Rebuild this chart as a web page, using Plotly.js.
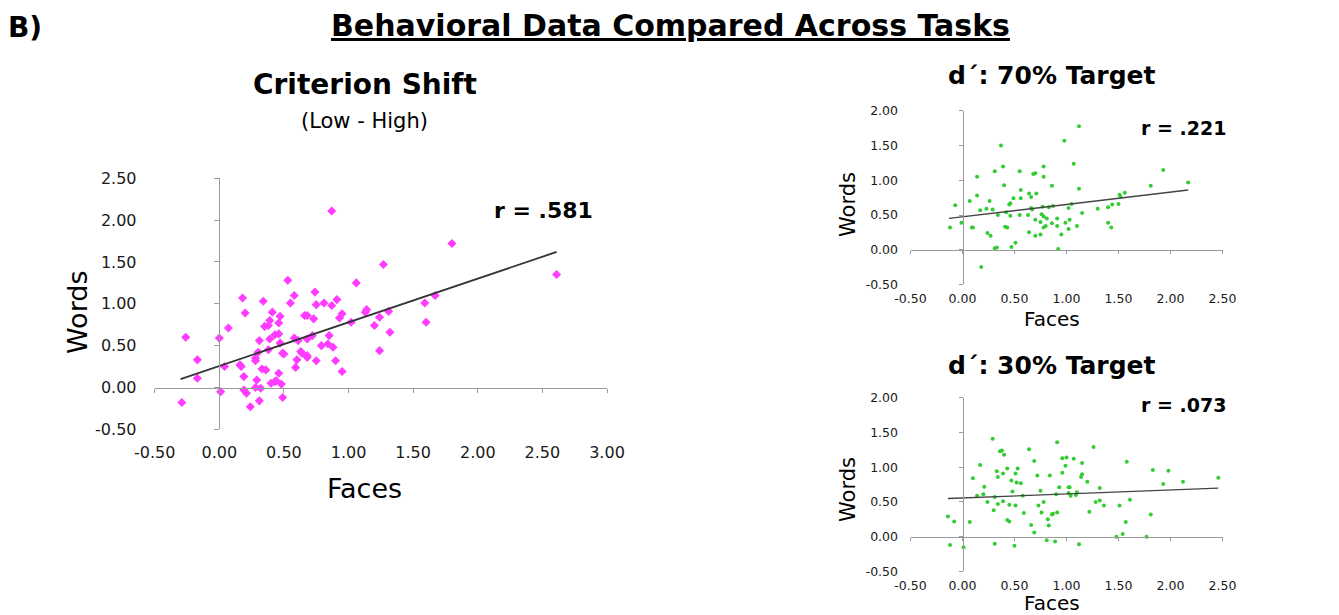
<!DOCTYPE html>
<html>
<head>
<meta charset="utf-8">
<script src="https://cdn.plot.ly/plotly-3.0.1.min.js"></script>
<style>html,body{margin:0;padding:0;background:#fff;}#chart{width:1339px;height:615px;}</style>
</head>
<body>
<div id="chart"></div>
<script>
// ---- Criterion Shift (Low - High) ----
const csFaces = [0.87,1.27,0.53,1.06,0.58,0.74,0.18,0.34,0.91,0.55,0.75,0.81,0.87,0.20,0.41,0.47,0.66,0.68,0.73,0.95,0.93,1.14,1.13,1.31,1.24,1.20,1.02,0.39,0.38,0.35,0.46,0.07,0.43,0.46,0.39,0.31,0.58,0.61,0.68,0.72,0.85,0.47,0.00,-0.26,0.30,0.49,0.50,0.63,0.64,0.68,0.79,0.84,0.88,0.38,0.28,0.28,0.60,0.68,0.75,0.90,-0.17,0.16,0.17,0.04,0.33,0.36,0.59,0.46,0.95,0.19,-0.17,0.29,0.43,0.44,0.40,0.48,0.28,0.32,0.19,0.21,0.01,0.31,0.49,-0.29,0.24,1.24,1.32,1.80,2.61,1.67,1.59,1.60];
const csWords = [2.11,1.47,1.28,1.25,1.10,1.14,1.07,1.03,1.05,1.01,0.99,1.01,0.98,0.89,0.90,0.85,0.86,0.86,0.82,0.88,0.83,0.93,0.90,0.91,0.84,0.74,0.78,0.80,0.74,0.73,0.77,0.71,0.63,0.64,0.58,0.56,0.59,0.56,0.58,0.62,0.62,0.53,0.59,0.60,0.42,0.41,0.40,0.43,0.41,0.38,0.50,0.52,0.48,0.45,0.35,0.32,0.33,0.36,0.32,0.32,0.33,0.27,0.25,0.25,0.22,0.21,0.24,0.17,0.19,0.13,0.11,0.09,0.07,0.08,0.05,0.04,0.00,-0.01,-0.03,-0.07,-0.05,-0.16,-0.12,-0.18,-0.23,0.44,0.66,1.72,1.35,1.10,1.01,0.78];
const csFitX = [-0.30, 2.61];
const csFitY = [0.10, 1.62];

// ---- d': 70% Target ----
const t70Faces = [1.12,0.98,0.37,1.07,0.39,0.31,0.55,0.78,0.68,0.70,0.78,0.14,0.40,0.86,1.12,0.14,0.56,0.64,0.66,0.71,0.49,0.56,0.46,0.45,0.07,0.26,-0.07,0.17,0.23,0.29,0.34,0.42,0.46,0.55,0.63,0.66,0.67,0.77,0.83,0.87,1.02,1.05,1.15,1.30,0.76,0.78,0.81,0.91,0.70,0.75,0.80,0.78,0.86,0.91,0.99,1.03,1.02,1.10,-0.12,-0.01,0.09,0.10,0.41,0.43,0.64,0.70,0.75,0.24,0.27,0.95,0.51,0.47,0.31,0.33,0.92,0.18,1.93,2.17,1.81,1.56,1.51,1.52,1.50,1.44,1.40,1.40,1.43];
const t70Words = [1.78,1.57,1.50,1.24,1.20,1.13,1.13,1.20,1.09,1.10,1.05,1.05,0.93,0.92,0.88,0.78,0.86,0.81,0.76,0.81,0.74,0.74,0.67,0.65,0.70,0.70,0.64,0.57,0.59,0.58,0.50,0.54,0.49,0.50,0.50,0.60,0.58,0.62,0.61,0.63,0.60,0.66,0.53,0.59,0.51,0.48,0.45,0.45,0.43,0.40,0.34,0.32,0.38,0.34,0.39,0.43,0.30,0.34,0.32,0.39,0.32,0.32,0.33,0.32,0.25,0.20,0.22,0.24,0.20,0.22,0.10,0.04,0.02,0.03,0.01,-0.25,1.15,0.97,0.92,0.82,0.79,0.76,0.66,0.65,0.61,0.39,0.32];
const t70FitX = [-0.13, 2.17];
const t70FitY = [0.45, 0.86];

// ---- d': 30% Target ----
const t30Faces = [0.29,0.91,1.26,0.64,0.38,0.36,0.40,0.96,1.00,1.07,0.69,1.15,0.17,0.99,0.53,0.43,0.33,0.39,0.34,0.51,0.96,1.15,1.14,0.72,0.84,0.10,0.47,0.52,0.56,1.20,0.21,0.93,1.02,1.03,0.75,0.48,0.20,0.14,0.90,1.02,1.10,1.09,1.04,1.32,0.58,0.31,0.24,0.34,0.39,0.45,0.51,0.78,0.73,1.28,1.32,0.30,0.59,0.76,0.91,0.86,0.87,1.22,-0.14,-0.08,0.07,0.43,0.45,0.82,0.66,0.83,0.69,0.81,0.89,0.31,0.50,1.12,-0.12,0.01,1.58,1.83,1.98,2.46,2.12,1.93,1.61,1.36,1.51,1.81,1.57,1.54,1.48,1.77];
const t30Words = [1.41,1.36,1.29,1.26,1.24,1.23,1.18,1.13,1.14,1.12,1.09,1.06,1.03,1.02,0.98,0.98,0.94,0.91,0.86,0.91,0.92,0.90,0.86,0.88,0.88,0.84,0.81,0.78,0.77,0.79,0.72,0.71,0.71,0.71,0.66,0.65,0.61,0.59,0.61,0.63,0.64,0.60,0.59,0.70,0.59,0.57,0.50,0.47,0.51,0.46,0.45,0.50,0.45,0.50,0.52,0.38,0.34,0.35,0.35,0.32,0.33,0.36,0.29,0.22,0.21,0.24,0.22,0.25,0.17,0.16,0.06,-0.05,-0.07,-0.10,-0.13,-0.11,-0.12,-0.15,1.08,0.96,0.95,0.85,0.79,0.76,0.53,0.45,0.45,0.32,0.21,0.04,0.00,0.00];
const t30FitX = [-0.14, 2.46];
const t30FitY = [0.55, 0.70];

// ---- tick labels ----
const csXTickVals = [-0.5, 0, 0.5, 1, 1.5, 2, 2.5, 3];
const csXTickText = ['-0.50', '0.00', '0.50', '1.00', '1.50', '2.00', '2.50', '3.00'];
const csYTickVals = [-0.5, 0, 0.5, 1, 1.5, 2, 2.5];
const csYTickText = ['-0.50', '0.00', '0.50', '1.00', '1.50', '2.00', '2.50'];
const rXTickVals = [-0.5, 0, 0.5, 1, 1.5, 2, 2.5];
const rXTickText = ['-0.50', '0.00', '0.50', '1.00', '1.50', '2.00', '2.50'];
const rYTickVals = [-0.5, 0, 0.5, 1, 1.5, 2];
const rYTickText = ['-0.50', '0.00', '0.50', '1.00', '1.50', '2.00'];

// ---- text ----
const mainTitle = 'Behavioral Data Compared Across Tasks';
const panelLabel = 'B)';
const csTitle = 'Criterion Shift';
const csSubtitle = '(Low - High)';
const t70Title = 'd\u00b4: 70% Target';
const t30Title = 'd\u00b4: 30% Target';
const csR = 'r = .581';
const t70R = 'r = .221';
const t30R = 'r = .073';
const xLabel = 'Faces';
const yLabel = 'Words';

const W = 1339, H = 615;
const FONT = 'DejaVu Sans, sans-serif';
const px = v => v / W;
const py = v => 1 - v / H;

const magenta = '#ff3cff';
const green = '#33cc33';
const axisGray = '#9a9a9a';

const traces = [
  {x: csFaces, y: csWords, xaxis: 'x', yaxis: 'y', type: 'scatter', mode: 'markers',
   marker: {symbol: 'diamond', size: 7, color: magenta}, hoverinfo: 'x+y'},
  {x: csFitX, y: csFitY, xaxis: 'x2', yaxis: 'y2', type: 'scatter', mode: 'lines',
   line: {color: '#333333', width: 1.8}, hoverinfo: 'skip'},
  {x: t70Faces, y: t70Words, xaxis: 'x3', yaxis: 'y3', type: 'scatter', mode: 'markers',
   marker: {symbol: 'circle', size: 4, color: green}, hoverinfo: 'x+y'},
  {x: t70FitX, y: t70FitY, xaxis: 'x4', yaxis: 'y4', type: 'scatter', mode: 'lines',
   line: {color: '#444444', width: 1.3}, hoverinfo: 'skip'},
  {x: t30Faces, y: t30Words, xaxis: 'x5', yaxis: 'y5', type: 'scatter', mode: 'markers',
   marker: {symbol: 'circle', size: 4, color: green}, hoverinfo: 'x+y'},
  {x: t30FitX, y: t30FitY, xaxis: 'x6', yaxis: 'y6', type: 'scatter', mode: 'lines',
   line: {color: '#444444', width: 1.3}, hoverinfo: 'skip'}
];

function labelAxis(domain, range, anchor, fsize, tlen, vals, text) {
  return {domain: domain, range: range, anchor: anchor, showline: false, zeroline: false,
    showgrid: false, tickmode: 'array', tickvals: vals, ticktext: text,
    ticks: 'outside', ticklen: tlen,
    tickcolor: 'rgba(0,0,0,0)', tickfont: {family: FONT, size: fsize, color: '#1a1a1a'},
    fixedrange: true};
}
function lineAxis(over, range, pos, tlen, vals) {
  return {overlaying: over, anchor: 'free', position: pos, range: range, showline: true,
    linecolor: axisGray, linewidth: 1, zeroline: false, showgrid: false,
    tickmode: 'array', tickvals: vals,
    ticks: 'outside', ticklen: tlen, tickcolor: axisGray, tickwidth: 1, showticklabels: false,
    fixedrange: true};
}

const csXR = [-0.5, 3.0], csYR = [-0.5, 2.5];
const rXR = [-0.5, 2.5], rYR = [-0.5, 2.0];
const csXD = [px(154.7), px(607)], csYD = [py(429.3), py(178.3)];
const rXD = [px(910.5), px(1222.5)];
const tYD = [py(284.4), py(110.9)];
const bYD = [py(571.45), py(397.7)];

const layout = {
  width: W, height: H, margin: {l: 0, r: 0, t: 0, b: 0},
  paper_bgcolor: '#ffffff', plot_bgcolor: 'rgba(0,0,0,0)', showlegend: false,
  font: {family: FONT, color: '#111'},
  xaxis: labelAxis(csXD, csXR, 'y', 16, 8, csXTickVals, csXTickText),
  yaxis: labelAxis(csYD, csYR, 'x', 16, 14, csYTickVals, csYTickText),
  xaxis2: lineAxis('x', csXR, py(387.5), 4, csXTickVals),
  yaxis2: lineAxis('y', csYR, px(219.3), 5, csYTickVals),
  xaxis3: labelAxis(rXD, rXR, 'y3', 12.5, 3, rXTickVals, rXTickText),
  yaxis3: labelAxis(tYD, rYR, 'x3', 12.5, 9, rYTickVals, rYTickText),
  xaxis4: lineAxis('x3', rXR, py(249.7), 3, rXTickVals),
  yaxis4: lineAxis('y3', rYR, px(962.5), 4, rYTickVals),
  xaxis5: labelAxis(rXD, rXR, 'y5', 12.5, 3, rXTickVals, rXTickText),
  yaxis5: labelAxis(bYD, rYR, 'x5', 12.5, 9, rYTickVals, rYTickText),
  xaxis6: lineAxis('x5', rXR, py(536.7), 3, rXTickVals),
  yaxis6: lineAxis('y5', rYR, px(962.5), 4, rYTickVals),
  annotations: [
    {text: '<b><u>' + mainTitle + '</u></b>', x: px(670), y: py(26), size: 30},
    {text: '<b>' + panelLabel + '</b>', x: px(25), y: py(27), size: 28},
    {text: '<b>' + csTitle + '</b>', x: px(365), y: py(85), size: 28},
    {text: csSubtitle, x: px(364), y: py(121), size: 21},
    {text: '<b>' + csR + '</b>', x: px(543), y: py(210), size: 22},
    {text: xLabel, x: px(364), y: py(488), size: 27},
    {text: yLabel, x: px(77), y: py(313), size: 27, textangle: -90},
    {text: '<b>' + t70Title + '</b>', x: px(1052), y: py(76), size: 25},
    {text: '<b>' + t70R + '</b>', x: px(1183), y: py(128), size: 19},
    {text: xLabel, x: px(1052), y: py(319), size: 20},
    {text: yLabel, x: px(848), y: py(205), size: 21, textangle: -90},
    {text: '<b>' + t30Title + '</b>', x: px(1052), y: py(365), size: 25},
    {text: '<b>' + t30R + '</b>', x: px(1183), y: py(405), size: 19},
    {text: xLabel, x: px(1052), y: py(603), size: 20},
    {text: yLabel, x: px(848), y: py(490), size: 21, textangle: -90}
  ].map(a => ({text: a.text, x: a.x, y: a.y, xref: 'paper', yref: 'paper',
    xanchor: 'center', yanchor: 'middle', showarrow: false, textangle: a.textangle || 0,
    font: {family: FONT, size: a.size, color: '#000'}}))
};

Plotly.newPlot('chart', traces, layout, {displayModeBar: false, staticPlot: true});
</script>
</body>
</html>
